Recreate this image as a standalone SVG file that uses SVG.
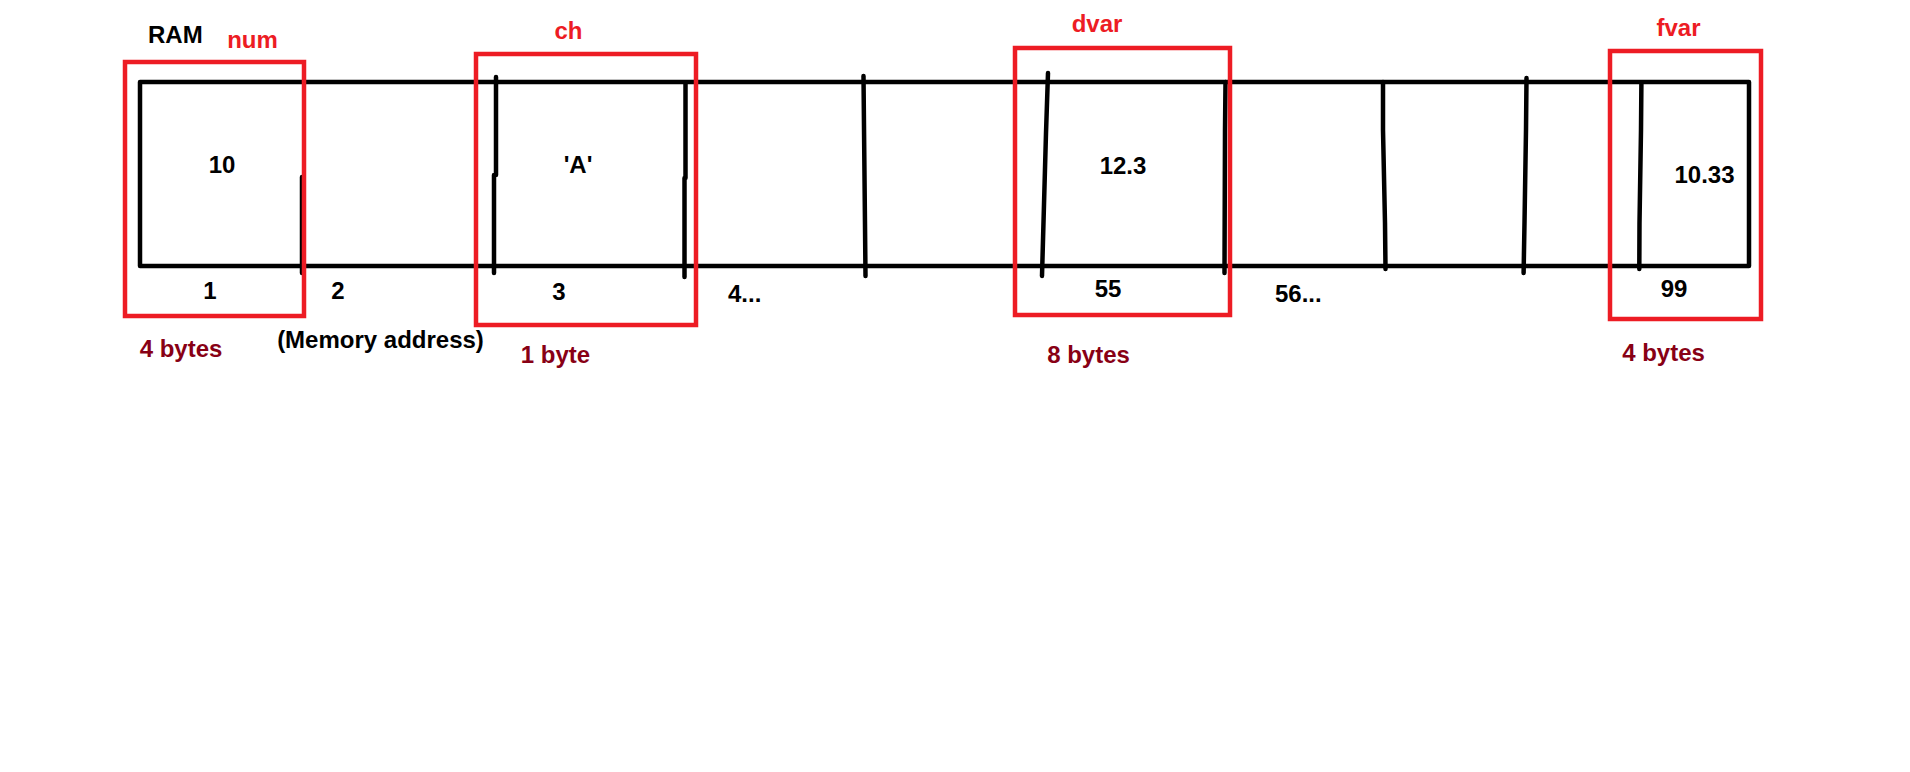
<svg xmlns="http://www.w3.org/2000/svg" width="1910" height="772" viewBox="0 0 1910 772">
<style>
text{font-family:"Liberation Sans",Arial,sans-serif;font-weight:bold;font-size:24px;text-anchor:middle}
.k{fill:#000}
.r{fill:#ED1C24}
.d{fill:#880015}
.ln{fill:none;stroke:#000;stroke-width:4.5;stroke-linecap:round;stroke-linejoin:round}
.box{fill:none;stroke:#ED1C24;stroke-width:4.5}
</style>
<rect width="1910" height="772" fill="#fff"/>
<g id="ram">
<rect class="ln" x="140" y="82" width="1609" height="184" stroke-linecap="butt"/>
<text class="k" x="148" y="43" style="text-anchor:start">RAM</text>
</g>
<g id="dividers">
<polyline class="ln" points="302,177 302,273"/>
<polyline class="ln" points="496,77 496,175 494,175 494,273"/>
<polyline class="ln" points="685.5,83 685.5,178 684.5,178 684.5,277"/>
<polyline class="ln" points="863.5,76 864,127 865,225 865.5,276"/>
<polyline class="ln" points="1048,73 1046,133 1042,276"/>
<polyline class="ln" points="1225.5,82 1225,130 1224.5,273"/>
<polyline class="ln" points="1383,82 1383,130 1385,223 1385.5,269"/>
<polyline class="ln" points="1526.5,78 1526,130 1524.5,223 1523.6,273"/>
<polyline class="ln" points="1641.4,83 1641,130 1639.5,223 1639.3,269"/>
</g>
<g id="cell-num">
<text class="k" x="222" y="173">10</text>
<text class="k" x="210" y="299">1</text>
<rect class="box" x="125" y="62" width="179" height="254"/>
<text class="r" x="252.5" y="48">num</text>
<text class="d" x="181" y="357">4 bytes</text>
</g>
<g id="cell-2">
<text class="k" x="338" y="299">2</text>
<text class="k" x="380.5" y="348">(Memory address)</text>
</g>
<g id="cell-ch">
<text class="k" x="578" y="173">'A'</text>
<text class="k" x="559" y="300">3</text>
<rect class="box" x="476" y="54" width="220" height="271"/>
<text class="r" x="568.5" y="39">ch</text>
<text class="d" x="555.5" y="363">1 byte</text>
</g>
<g id="cell-4">
<text class="k" x="728" y="302" style="text-anchor:start">4...</text>
</g>
<g id="cell-dvar">
<text class="k" x="1123" y="174">12.3</text>
<text class="k" x="1108" y="297">55</text>
<rect class="box" x="1015" y="48" width="215" height="267"/>
<text class="r" x="1097" y="32">dvar</text>
<text class="d" x="1088.5" y="363">8 bytes</text>
</g>
<g id="cell-56">
<text class="k" x="1275" y="302" style="text-anchor:start">56...</text>
</g>
<g id="cell-fvar">
<text class="k" x="1704.5" y="183">10.33</text>
<text class="k" x="1674" y="297">99</text>
<rect class="box" x="1610" y="51" width="151" height="268"/>
<text class="r" x="1678.5" y="36">fvar</text>
<text class="d" x="1663.5" y="361">4 bytes</text>
</g>
<g id="connectors"/>
</svg>
